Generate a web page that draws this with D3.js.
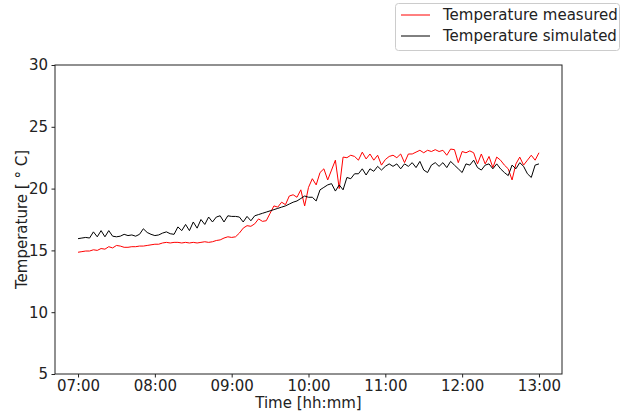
<!DOCTYPE html>
<html>
<head>
<meta charset="utf-8">
<script src="https://cdn.jsdelivr.net/npm/d3@7"></script>
<style>
  body { margin: 0; background: #fff; }
  text { font-family: "DejaVu Sans", sans-serif; }
</style>
</head>
<body>
<div id="chart"></div>
<script>
// readings, every 3 minutes from 07:00
const startTime = "07:00";
const minutes = [0,3,6,9,12,15,18,21,24,27,30,33,36,39,42,45,48,51,54,57,
  60,63,66,69,72,75,78,81,84,87,90,93,96,99,102,105,108,111,114,117,
  120,123,126,129,132,135,138,141,144,147,150,153,156,159,162,165,168,171,174,177,
  180,183,186,189,192,195,198,201,204,207,210,213,216,219,222,225,228,231,234,237,
  240,243,246,249,252,255,258,261,264,267,270,273,276,279,282,285,288,291,294,297,
  300,303,306,309,312,315,318,321,324,327,330,333,336,339,342,345,348,351,354,357,360];

const measured = [14.85,14.9,14.95,14.95,15.05,15.0,15.15,15.1,15.3,15.2,
  15.4,15.35,15.25,15.25,15.3,15.3,15.35,15.35,15.4,15.45,
  15.5,15.5,15.6,15.65,15.6,15.65,15.65,15.6,15.65,15.6,
  15.65,15.6,15.65,15.7,15.65,15.7,15.8,15.85,16.0,16.1,
  16.05,16.1,16.4,16.8,17.0,16.95,17.15,17.55,17.35,17.4,
  18.0,18.6,18.5,18.9,18.7,19.4,19.5,19.3,19.9,18.6,
  20.1,20.8,20.3,21.3,21.6,20.7,21.5,22.3,20.0,22.55,
  22.5,22.7,22.6,22.3,22.95,22.4,22.8,22.3,22.7,21.9,
  22.35,22.6,22.7,22.5,22.8,22.1,22.8,22.8,22.95,23.1,
  22.9,23.1,23.0,23.15,23.0,23.1,22.7,23.2,23.15,22.1,
  23.0,22.9,23.05,22.9,22.0,22.8,22.0,22.6,21.7,22.55,
  22.3,21.9,21.6,20.7,22.0,22.55,21.9,22.3,22.7,22.3,22.9];

const simulated = [15.95,16.0,16.05,16.0,16.5,16.1,16.6,16.1,16.6,16.15,
  16.1,16.15,16.3,16.2,16.25,16.15,16.3,16.75,16.45,16.3,
  16.2,16.25,16.4,16.5,16.35,16.3,16.9,16.6,17.1,16.6,
  17.3,16.8,17.5,17.1,17.7,17.3,17.7,17.8,17.3,17.8,
  17.75,17.75,17.7,17.3,17.75,17.4,17.8,17.9,18.0,18.1,
  18.2,18.3,18.4,18.5,18.6,18.75,18.9,19.0,19.2,19.4,
  19.3,19.3,19.0,19.9,20.1,20.3,20.4,19.8,20.3,19.9,
  20.9,20.8,21.2,21.2,21.6,21.1,21.6,21.4,21.8,21.5,
  21.8,22.0,21.8,22.0,21.6,22.0,21.8,22.1,21.7,22.2,
  21.5,21.3,21.9,22.1,21.8,22.1,21.7,22.2,21.9,21.6,
  21.3,22.0,21.9,22.3,21.7,21.5,21.9,22.0,21.6,22.0,
  21.6,21.3,21.05,21.9,21.6,22.1,21.8,21.2,20.9,21.9,22.0];

const seriesNames = ["Temperature measured", "Temperature simulated"];
const seriesColors = ["red", "black"];
const yTicks = [5, 10, 15, 20, 25, 30];

const width = 624, height = 412;
const margin = {left: 55, right: 62, top: 65, bottom: 38};

const svg = d3.select("#chart").append("svg")
  .attr("width", width)
  .attr("height", height);

const t0 = d3.timeParse("%H:%M")(startTime);
const times = minutes.map(m => d3.timeMinute.offset(t0, m));

// matplotlib-like 5% margin on the time axis
const span = d3.max(minutes) - d3.min(minutes);
const x = d3.scaleTime()
  .domain([d3.timeMinute.offset(t0, -span * 0.05), d3.timeMinute.offset(t0, d3.max(minutes) + span * 0.05)])
  .range([margin.left, width - margin.right]);

const y = d3.scaleLinear()
  .domain([5, 30])
  .range([height - margin.bottom, margin.top]);

svg.append("g")
  .attr("transform", `translate(0,${height - margin.bottom})`)
  .call(d3.axisBottom(x).ticks(d3.timeHour.every(1)).tickFormat(d3.timeFormat("%H:%M")).tickSizeOuter(0).tickSize(3.5).tickPadding(3));

svg.append("g")
  .attr("transform", `translate(${margin.left},0)`)
  .call(d3.axisLeft(y).tickValues(yTicks).tickFormat(d3.format("d")).tickSizeOuter(0).tickSize(3.5).tickPadding(3.5));

svg.selectAll(".tick text")
  .attr("font-size", 15)
  .attr("fill", "#222");
svg.selectAll(".tick line").attr("stroke", "#222");
svg.selectAll(".domain").remove();

// lines
const series = [measured, simulated];
const line = d3.line()
  .x((d, i) => x(times[i]))
  .y(d => y(d));

series.forEach((s, k) => {
  svg.append("path")
    .datum(s)
    .attr("fill", "none")
    .attr("stroke", seriesColors[k])
    .attr("stroke-width", 1)
    .attr("d", line);
});

// frame
svg.append("rect")
  .attr("x", margin.left)
  .attr("y", margin.top)
  .attr("width", width - margin.left - margin.right)
  .attr("height", height - margin.top - margin.bottom)
  .attr("fill", "none")
  .attr("stroke", "#222")
  .attr("stroke-width", 1);

// axis labels
svg.append("text")
  .attr("x", (margin.left + width - margin.right) / 2)
  .attr("y", 408)
  .attr("text-anchor", "middle")
  .attr("font-size", 15)
  .attr("fill", "#222")
  .text("Time [hh:mm]");

svg.append("text")
  .attr("transform", `translate(27,${(margin.top + height - margin.bottom) / 2}) rotate(-90)`)
  .attr("text-anchor", "middle")
  .attr("font-size", 15)
  .attr("fill", "#222")
  .text("Temperature [ ° C]");

// legend
const legend = svg.append("g");
legend.append("rect")
  .attr("x", 395.5).attr("y", 3.5)
  .attr("width", 224).attr("height", 47)
  .attr("rx", 3)
  .attr("fill", "white")
  .attr("stroke", "#ccc");

seriesNames.forEach((name, k) => {
  const ly = 15 + k * 21;
  legend.append("line")
    .attr("x1", 401).attr("x2", 430)
    .attr("y1", ly).attr("y2", ly)
    .attr("stroke", seriesColors[k])
    .attr("stroke-width", 1);
  legend.append("text")
    .attr("x", 443).attr("y", ly + 5)
    .attr("font-size", 15)
    .attr("fill", "#222")
    .text(name);
});
</script>
</body>
</html>
